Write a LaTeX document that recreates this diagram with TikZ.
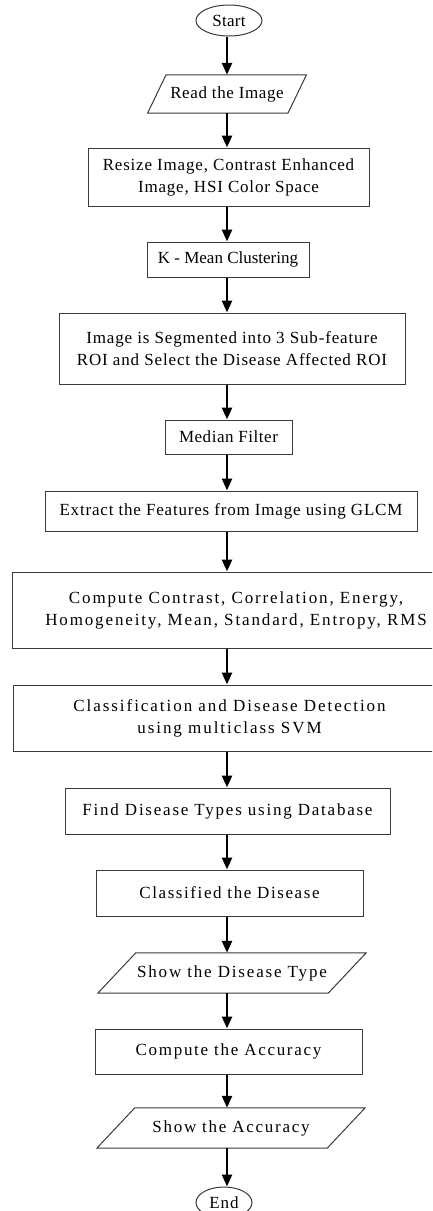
\documentclass[tikz,border=0pt]{standalone}
\usepackage{fontspec}
\setmainfont{Liberation Serif}
\usetikzlibrary{arrows.meta,shapes.geometric}
\definecolor{boxgray}{HTML}{3A3A3A}
\newcommand\myfs{\fontsize{17}{22}\selectfont}
\newcommand\myls[1]{\addfontfeature{LetterSpace=#1}}
\begin{document}
\begin{tikzpicture}[x=1pt,y=-1pt,
  proc/.style={draw=boxgray, line width=1pt, inner sep=0pt, align=center, text=black},
  term/.style={ellipse, draw=boxgray, line width=1pt, inner sep=0pt, text=black},
  io/.style={inner sep=0pt, align=center, text=black},
  iobox/.style={draw=boxgray, line width=1pt, line join=miter},
  arr/.style={line width=2.5pt, draw=black, -{Triangle[length=12pt,width=10pt]}}]
\useasboundingbox (0,0) rectangle (432,1211);
\clip (0,0) rectangle (432,1211);
\coordinate (axis) at (227,0);

\node[term, minimum width=66pt, minimum height=31pt, font=\myfs\myls{1.5}] (start) at (229,20.5) {Start};

\node[io, minimum width=140pt, minimum height=38pt, font=\myfs\myls{3.6}] (read) at (227,94) {Read the Image};
\draw[iobox] ([xshift=9.25pt]read.north west) -- ([xshift=9.25pt]read.north east) -- ([xshift=-9.25pt]read.south east) -- ([xshift=-9.25pt]read.south west) -- cycle;

\node[proc, minimum width=281pt, minimum height=58pt, font=\myfs\myls{4.8}] (res) at (228.5,177) {Resize Image, Contrast Enhanced\\Image, HSI Color Space};

\node[proc, minimum width=162pt, minimum height=35pt, font=\myfs\myls{0}] (km) at (228,259.5) {K - Mean Clustering};

\node[proc, minimum width=346pt, minimum height=71pt, font=\myfs\myls{5}] (seg) at (232,348.5) {Image is Segmented into 3 Sub-feature\\ROI and Select the Disease Affected ROI};

\node[proc, minimum width=127pt, minimum height=34pt, font=\myfs\myls{3.2}] (med) at (228.5,437) {Median Filter};

\node[proc, minimum width=372pt, minimum height=40pt, font=\myfs\myls{4.8}] (ext) at (231,511) {Extract the Features from Image using GLCM};

\node[proc, minimum width=448pt, minimum height=76pt, font=\myfs\myls{11}] (comp) at (236,610) {Compute Contrast, Correlation, Energy,\\Homogeneity, Mean, Standard, Entropy, RMS};

\node[proc, minimum width=433pt, minimum height=66pt, font=\myfs\myls{11.5}] (cls) at (229.5,718) {Classification and Disease Detection\\using multiclass SVM};

\node[proc, minimum width=325pt, minimum height=46pt, font=\myfs\myls{10.4}] (find) at (227.5,811) {Find Disease Types using Database};

\node[proc, minimum width=267pt, minimum height=46pt, font=\myfs\myls{9.3}] (cld) at (229.5,893) {Classified the Disease};

\node[io, minimum width=230pt, minimum height=40pt, font=\myfs\myls{10.7}] (sdt) at (232,973) {Show the Disease Type};
\draw[iobox] ([xshift=19pt]sdt.north west) -- ([xshift=19pt]sdt.north east) -- ([xshift=-19pt]sdt.south east) -- ([xshift=-19pt]sdt.south west) -- cycle;

\node[proc, minimum width=267pt, minimum height=45pt, font=\myfs\myls{10}] (acc) at (228.5,1051.5) {Compute the Accuracy};

\node[io, minimum width=230pt, minimum height=40pt, font=\myfs\myls{10.1}] (sacc) at (231,1128) {Show the Accuracy};
\draw[iobox] ([xshift=19pt]sacc.north west) -- ([xshift=19pt]sacc.north east) -- ([xshift=-19pt]sacc.south east) -- ([xshift=-19pt]sacc.south west) -- cycle;

\node[term, minimum width=56pt, minimum height=31pt, font=\myfs\myls{6}] (end) at (224,1202.5) {End};

\draw[arr] (start.south -| axis) -- (read.north -| axis);
\draw[arr] (read.south -| axis) -- (res.north -| axis);
\draw[arr] (res.south -| axis) -- (km.north -| axis);
\draw[arr] (km.south -| axis) -- (seg.north -| axis);
\draw[arr] (seg.south -| axis) -- (med.north -| axis);
\draw[arr] (med.south -| axis) -- (ext.north -| axis);
\draw[arr] (ext.south -| axis) -- (comp.north -| axis);
\draw[arr] (comp.south -| axis) -- (cls.north -| axis);
\draw[arr] (cls.south -| axis) -- (find.north -| axis);
\draw[arr] (find.south -| axis) -- (cld.north -| axis);
\draw[arr] (cld.south -| axis) -- (sdt.north -| axis);
\draw[arr] (sdt.south -| axis) -- (acc.north -| axis);
\draw[arr] (acc.south -| axis) -- (sacc.north -| axis);
\draw[arr] (sacc.south -| axis) -- (end.north -| axis);
\end{tikzpicture}
\end{document}
